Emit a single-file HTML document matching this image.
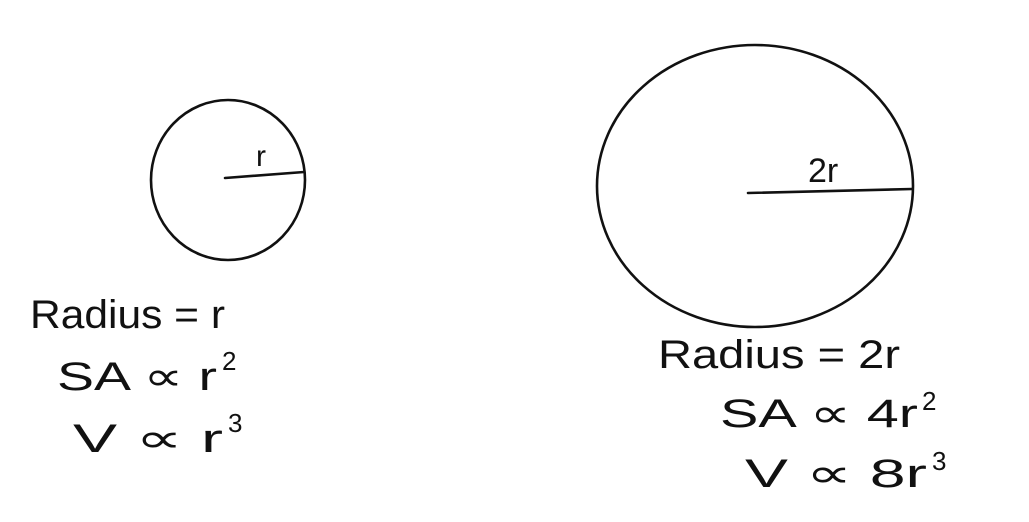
<!DOCTYPE html>
<html><head><meta charset="utf-8"><style>
html,body{margin:0;padding:0;background:#fff;}
svg{display:block;}
text{font-family:"Liberation Sans","DejaVu Sans",sans-serif;fill:#111;}
</style></head><body>
<svg width="1029" height="522" viewBox="0 0 1029 522">
<rect width="1029" height="522" fill="#fff"/>
<g fill="none" stroke="#111" stroke-width="2.6" stroke-linecap="round">
  <ellipse cx="228" cy="180" rx="77" ry="80"/>
  <path d="M225 178 L304 172"/>
  <ellipse cx="755" cy="186" rx="158" ry="141"/>
  <path d="M748 193 L912 189"/>
</g>
<text x="256" y="166" font-size="30">r</text>
<text x="808" y="182" font-size="34">2r</text>

<text x="30" y="328" font-size="40" textLength="195" lengthAdjust="spacingAndGlyphs">Radius = r</text>
<text x="57" y="390" font-size="40" textLength="160" lengthAdjust="spacingAndGlyphs">SA ∝ r</text>
<text x="222" y="370" font-size="26">2</text>
<text x="73" y="452" font-size="40" textLength="150" lengthAdjust="spacingAndGlyphs">V ∝ r</text>
<text x="228" y="432" font-size="26">3</text>

<text x="658" y="368" font-size="40" textLength="242" lengthAdjust="spacingAndGlyphs">Radius = 2r</text>
<text x="720" y="427" font-size="40" textLength="198" lengthAdjust="spacingAndGlyphs">SA ∝ 4r</text>
<text x="922" y="410" font-size="26">2</text>
<text x="745" y="487" font-size="40" textLength="182" lengthAdjust="spacingAndGlyphs">V ∝ 8r</text>
<text x="932" y="470" font-size="26">3</text>
</svg>
</body></html>
